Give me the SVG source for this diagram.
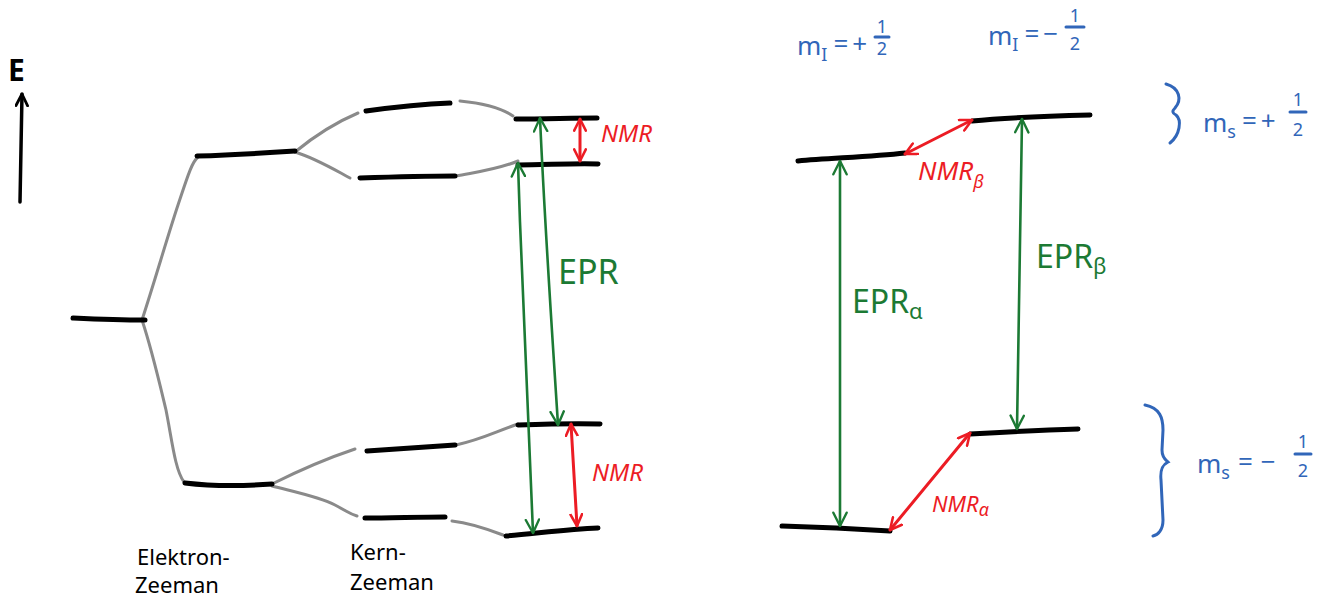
<svg xmlns="http://www.w3.org/2000/svg" width="1327" height="598" viewBox="0 0 1327 598">
<style>
.lvl{fill:none;stroke:#000;stroke-width:5;stroke-linecap:round;stroke-linejoin:round}
.gr{fill:none;stroke:#8a8a8a;stroke-width:3;stroke-linecap:round}
.g{fill:none;stroke:#1c7a34;stroke-width:2.6;stroke-linecap:round}
.r{fill:none;stroke:#ec1c24;stroke-width:3;stroke-linecap:round}
.b{fill:none;stroke:#3166b9;stroke-width:3;stroke-linecap:round}
.t{font-family:"Noto Sans","DejaVu Sans",sans-serif}
.tk{fill:#000;font-size:22px}
.tr{fill:#ec1c24;font-size:24px;font-style:italic}
.tg{fill:#1c7a34;font-size:32px}
.tb{fill:#3166b9;font-size:26px}
.sb{font-size:18px}
</style>
<defs>
<marker id="ag" viewBox="0 0 12 12" refX="11" refY="6" markerWidth="16" markerHeight="16" markerUnits="userSpaceOnUse" orient="auto-start-reverse"><path d="M1,1 L11,6 L1,11" fill="none" stroke="#1c7a34" stroke-width="1.8" stroke-linecap="round" stroke-linejoin="round"/></marker>
<marker id="ar" viewBox="0 0 12 12" refX="11" refY="6" markerWidth="14" markerHeight="14" markerUnits="userSpaceOnUse" orient="auto-start-reverse"><path d="M1,1 L11,6 L1,11" fill="none" stroke="#ec1c24" stroke-width="2.2" stroke-linecap="round" stroke-linejoin="round"/></marker>
<marker id="ak" viewBox="0 0 12 12" refX="11" refY="6" markerWidth="14" markerHeight="14" markerUnits="userSpaceOnUse" orient="auto-start-reverse"><path d="M1,1 L11,6 L1,11" fill="none" stroke="#000" stroke-width="2.4" stroke-linecap="round" stroke-linejoin="round"/></marker>
</defs>
<rect width="1327" height="598" fill="#fff"/>

<g id="energy-axis">
<path d="M20,202 L22,94" fill="none" stroke="#000" stroke-width="3.5" stroke-linecap="round" marker-end="url(#ak)"/>
<text class="t" x="8" y="81" style="font-size:30px;fill:#000;font-weight:bold">E</text>
</g>

<g id="connectors">
<path class="gr" d="M142,320 C155,280 168,235 178,205 S192,162 198,157"/>
<path class="gr" d="M142,320 C152,350 160,385 166,410 C172,440 175,470 184,482"/>
<path class="gr" d="M295,152 C312,138 332,124 358,113"/>
<path class="gr" d="M295,152 C315,158 335,170 350,178"/>
<path class="gr" d="M460,101 C480,103 500,107 513,116"/>
<path class="gr" d="M456,176 C476,172 496,170 518,161"/>
<path class="gr" d="M272,484 C292,474 322,460 355,449"/>
<path class="gr" d="M272,486 C295,492 320,497 335,505 S350,514 357,516"/>
<path class="gr" d="M456,445 C480,440 495,432 518,424"/>
<path class="gr" d="M452,521 C470,523 490,530 503,535"/>
</g>

<g id="levels-left">
<path class="lvl" d="M73,318 C95,319 120,320 145,320"/>
<path class="lvl" d="M197,156 C230,155 265,153 295,151"/>
<path class="lvl" d="M185,483 C210,486 245,486 272,484"/>
<path class="lvl" d="M366,111 C395,107 425,104 450,103"/>
<path class="lvl" d="M360,178 C390,177 425,176 455,176"/>
<path class="lvl" d="M367,451 C395,449 425,447 455,445"/>
<path class="lvl" d="M365,518 C390,518 420,517 445,517"/>
<path class="lvl" d="M516,119 C545,119 572,118 597,118"/>
<path class="lvl" d="M518,165 C545,165 575,163 598,164"/>
<path class="lvl" d="M518,425 C545,424 575,423 600,424"/>
<path class="lvl" d="M506,536 C540,533 570,529 598,528"/>
</g>

<g id="levels-right">
<path class="lvl" d="M798,161 C830,158 870,157 905,153"/>
<path class="lvl" d="M972,121 C1010,117 1050,116 1090,115"/>
<path class="lvl" d="M782,526 C820,527 860,529 890,531"/>
<path class="lvl" d="M970,434 C1005,432 1045,430 1078,429"/>
</g>

<g id="transitions">
<path class="g" d="M518,163 C522,290 528,420 533,533" marker-start="url(#ag)" marker-end="url(#ag)"/>
<path class="g" d="M540,118 C545,230 552,330 558,425" marker-start="url(#ag)" marker-end="url(#ag)"/>
<path class="r" d="M580,119 L580,161" marker-start="url(#ar)" marker-end="url(#ar)"/>
<path class="r" d="M571,424 L577,526" marker-start="url(#ar)" marker-end="url(#ar)"/>
<path class="g" d="M840,161 L840,526" marker-start="url(#ag)" marker-end="url(#ag)"/>
<path class="g" d="M1022,119 L1017,429" marker-start="url(#ag)" marker-end="url(#ag)"/>
<path class="r" d="M905,154 L972,120" marker-start="url(#ar)" marker-end="url(#ar)"/>
<path class="r" d="M890,530 L970,433" marker-start="url(#ar)" marker-end="url(#ar)"/>
</g>

<g id="labels-left">
<text class="t tk" x="137" y="565">Elektron-</text>
<text class="t tk" x="135" y="593">Zeeman</text>
<text class="t tk" x="350" y="560">Kern-</text>
<text class="t tk" x="350" y="590">Zeeman</text>
<text class="t tg" x="558" y="284" style="font-size:34px">EPR</text>
<text class="t tr" x="601" y="142">NMR</text>
<text class="t tr" x="592" y="481">NMR</text>
</g>

<g id="labels-right">
<text class="t tr" x="918" y="180" style="font-size:26px">NMR<tspan class="sb" dy="8">β</tspan></text>
<text class="t tr" x="932" y="512" style="font-size:22px">NMR<tspan class="sb" dy="4">α</tspan></text>
<text class="t tg" x="852" y="313">EPR<tspan style="font-size:22px" dy="6">α</tspan></text>
<text class="t tg" x="1036" y="268">EPR<tspan style="font-size:22px" dy="6">β</tspan></text>
</g>

<g id="quantum-numbers">
<text class="t tb" x="797" y="55">m<tspan class="sb" dy="6">I</tspan><tspan dy="-8" dx="6">=</tspan><tspan dx="4">+</tspan></text>
<text class="t tb sb" x="882" y="33" text-anchor="middle">1</text>
<path class="b" d="M875,37 L889,37" stroke-width="2"/>
<text class="t tb sb" x="882" y="55" text-anchor="middle">2</text>

<text class="t tb" x="988" y="45">m<tspan class="sb" dy="6">I</tspan><tspan dy="-8" dx="6">=</tspan><tspan dx="4">−</tspan></text>
<text class="t tb sb" x="1075" y="22" text-anchor="middle">1</text>
<path class="b" d="M1066,27 L1084,27" stroke-width="2"/>
<text class="t tb sb" x="1075" y="50" text-anchor="middle">2</text>

<path class="b" d="M1166,84 C1180,88 1182,100 1175,108 C1172,111 1172,113 1176,115 C1182,120 1180,135 1170,143"/>
<text class="t tb" x="1203" y="132">m<tspan class="sb" dy="6">s</tspan><tspan dy="-8" dx="6">=</tspan><tspan dx="4">+</tspan></text>
<text class="t tb sb" x="1298" y="106" text-anchor="middle">1</text>
<path class="b" d="M1290,112 L1306,112" stroke-width="2"/>
<text class="t tb sb" x="1298" y="136" text-anchor="middle">2</text>

<path class="b" d="M1145,405 C1160,408 1163,418 1163,430 L1162,450 C1162,458 1166,460 1168,462 C1162,465 1160,470 1161,480 L1163,520 C1163,530 1158,535 1153,536"/>
<text class="t tb" x="1197" y="473">m<tspan class="sb" dy="6">s</tspan><tspan dy="-8" dx="8">=</tspan><tspan dx="8">−</tspan></text>
<text class="t tb sb" x="1303" y="448" text-anchor="middle">1</text>
<path class="b" d="M1295,454 L1311,454" stroke-width="2"/>
<text class="t tb sb" x="1303" y="477" text-anchor="middle">2</text>
</g>
</svg>
